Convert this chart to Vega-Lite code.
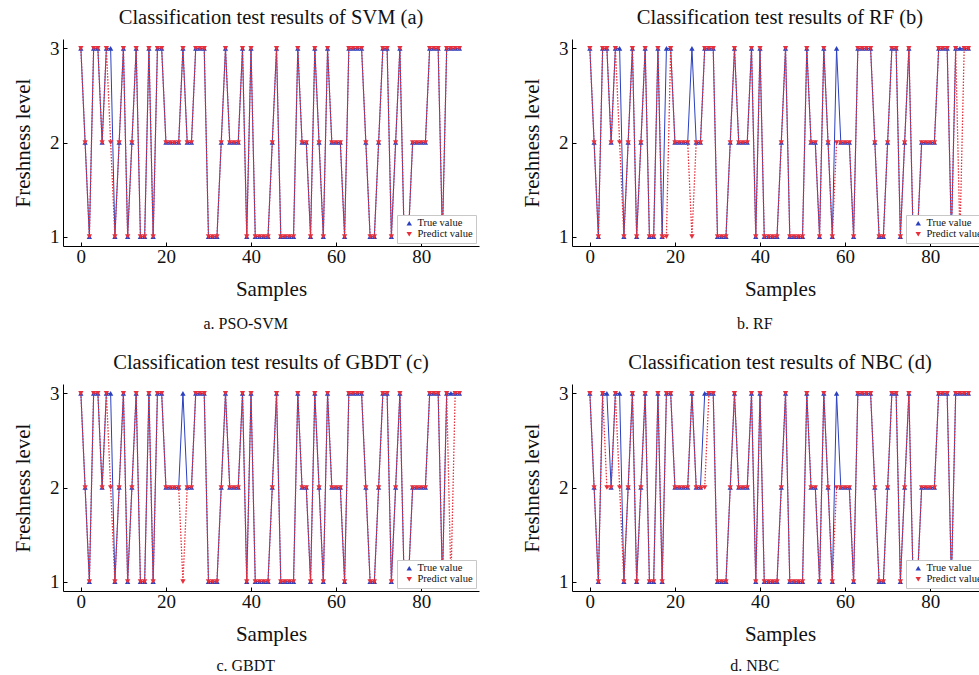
{
  "$schema": "https://vega.github.io/schema/vega-lite/v6.json",
  "padding": {"left": 12, "top": 7, "right": 0, "bottom": 0},
  "background": "#ffffff",
  "config": {
    "view": {"stroke": null},
    "axis": {"domainColor": "#000000", "domainWidth": 1, "tickColor": "#000000", "tickSize": -4, "tickWidth": 1, "grid": false, "labelFont": "Liberation Serif", "labelFontSize": 19, "labelColor": "#111111", "titleFont": "Liberation Serif", "titleFontSize": 21, "titleFontWeight": "normal", "titleColor": "#111111", "labelPadding": 8},
    "axisX": {"titlePadding": 12, "labelFlush": false, "labelPadding": 5},
    "axisY": {"titlePadding": 16},
    "title": {"font": "Liberation Serif", "fontSize": 20.5, "fontWeight": "normal", "color": "#111111", "offset": 11, "anchor": "middle"},
    "legend": {"title": null, "orient": "bottom-right", "offset": 3, "padding": 3, "strokeColor": "#c8c8c8", "fillColor": "#ffffff", "labelFont": "Liberation Serif", "labelFontSize": 10.5, "labelColor": "#111111", "rowPadding": 0, "labelOffset": 3, "symbolSize": 30, "symbolOffset": 4}
  },
  "datasets": {
    "rows": [
      {"x":0,"T":3,"a":3,"b":3,"c":3,"d":3},
      {"x":1,"T":2,"a":2,"b":2,"c":2,"d":2},
      {"x":2,"T":1,"a":1,"b":1,"c":1,"d":1},
      {"x":3,"T":3,"a":3,"b":3,"c":3,"d":3},
      {"x":4,"T":3,"a":3,"b":3,"c":3,"d":2},
      {"x":5,"T":2,"a":2,"b":2,"c":2,"d":2},
      {"x":6,"T":3,"a":3,"b":3,"c":3,"d":3},
      {"x":7,"T":3,"a":2,"b":2,"c":2,"d":2},
      {"x":8,"T":1,"a":1,"b":1,"c":1,"d":1},
      {"x":9,"T":2,"a":2,"b":2,"c":2,"d":2},
      {"x":10,"T":3,"a":3,"b":3,"c":3,"d":3},
      {"x":11,"T":1,"a":1,"b":1,"c":1,"d":1},
      {"x":12,"T":2,"a":2,"b":2,"c":2,"d":2},
      {"x":13,"T":3,"a":3,"b":3,"c":3,"d":3},
      {"x":14,"T":1,"a":1,"b":1,"c":1,"d":1},
      {"x":15,"T":1,"a":1,"b":1,"c":1,"d":1},
      {"x":16,"T":3,"a":3,"b":3,"c":3,"d":3},
      {"x":17,"T":1,"a":1,"b":1,"c":1,"d":1},
      {"x":18,"T":3,"a":3,"b":1,"c":3,"d":3},
      {"x":19,"T":3,"a":3,"b":3,"c":3,"d":3},
      {"x":20,"T":2,"a":2,"b":2,"c":2,"d":2},
      {"x":21,"T":2,"a":2,"b":2,"c":2,"d":2},
      {"x":22,"T":2,"a":2,"b":2,"c":2,"d":2},
      {"x":23,"T":2,"a":2,"b":2,"c":2,"d":2},
      {"x":24,"T":3,"a":3,"b":1,"c":1,"d":3},
      {"x":25,"T":2,"a":2,"b":2,"c":2,"d":2},
      {"x":26,"T":2,"a":2,"b":2,"c":2,"d":2},
      {"x":27,"T":3,"a":3,"b":3,"c":3,"d":2},
      {"x":28,"T":3,"a":3,"b":3,"c":3,"d":3},
      {"x":29,"T":3,"a":3,"b":3,"c":3,"d":3},
      {"x":30,"T":1,"a":1,"b":1,"c":1,"d":1},
      {"x":31,"T":1,"a":1,"b":1,"c":1,"d":1},
      {"x":32,"T":1,"a":1,"b":1,"c":1,"d":1},
      {"x":33,"T":2,"a":2,"b":2,"c":2,"d":2},
      {"x":34,"T":3,"a":3,"b":3,"c":3,"d":3},
      {"x":35,"T":2,"a":2,"b":2,"c":2,"d":2},
      {"x":36,"T":2,"a":2,"b":2,"c":2,"d":2},
      {"x":37,"T":2,"a":2,"b":2,"c":2,"d":2},
      {"x":38,"T":3,"a":3,"b":3,"c":3,"d":3},
      {"x":39,"T":1,"a":1,"b":1,"c":1,"d":1},
      {"x":40,"T":3,"a":3,"b":3,"c":3,"d":3},
      {"x":41,"T":1,"a":1,"b":1,"c":1,"d":1},
      {"x":42,"T":1,"a":1,"b":1,"c":1,"d":1},
      {"x":43,"T":1,"a":1,"b":1,"c":1,"d":1},
      {"x":44,"T":1,"a":1,"b":1,"c":1,"d":1},
      {"x":45,"T":2,"a":2,"b":2,"c":2,"d":2},
      {"x":46,"T":3,"a":3,"b":3,"c":3,"d":3},
      {"x":47,"T":1,"a":1,"b":1,"c":1,"d":1},
      {"x":48,"T":1,"a":1,"b":1,"c":1,"d":1},
      {"x":49,"T":1,"a":1,"b":1,"c":1,"d":1},
      {"x":50,"T":1,"a":1,"b":1,"c":1,"d":1},
      {"x":51,"T":3,"a":3,"b":3,"c":3,"d":3},
      {"x":52,"T":2,"a":2,"b":2,"c":2,"d":2},
      {"x":53,"T":2,"a":2,"b":2,"c":2,"d":2},
      {"x":54,"T":1,"a":1,"b":1,"c":1,"d":1},
      {"x":55,"T":3,"a":3,"b":3,"c":3,"d":3},
      {"x":56,"T":2,"a":2,"b":2,"c":2,"d":2},
      {"x":57,"T":1,"a":1,"b":1,"c":1,"d":1},
      {"x":58,"T":3,"a":3,"b":2,"c":3,"d":2},
      {"x":59,"T":2,"a":2,"b":2,"c":2,"d":2},
      {"x":60,"T":2,"a":2,"b":2,"c":2,"d":2},
      {"x":61,"T":2,"a":2,"b":2,"c":2,"d":2},
      {"x":62,"T":1,"a":1,"b":1,"c":1,"d":1},
      {"x":63,"T":3,"a":3,"b":3,"c":3,"d":3},
      {"x":64,"T":3,"a":3,"b":3,"c":3,"d":3},
      {"x":65,"T":3,"a":3,"b":3,"c":3,"d":3},
      {"x":66,"T":3,"a":3,"b":3,"c":3,"d":3},
      {"x":67,"T":2,"a":2,"b":2,"c":2,"d":2},
      {"x":68,"T":1,"a":1,"b":1,"c":1,"d":1},
      {"x":69,"T":1,"a":1,"b":1,"c":1,"d":1},
      {"x":70,"T":2,"a":2,"b":2,"c":2,"d":2},
      {"x":71,"T":3,"a":3,"b":3,"c":3,"d":3},
      {"x":72,"T":3,"a":3,"b":3,"c":3,"d":3},
      {"x":73,"T":1,"a":1,"b":1,"c":1,"d":1},
      {"x":74,"T":2,"a":2,"b":2,"c":2,"d":2},
      {"x":75,"T":3,"a":3,"b":3,"c":3,"d":3},
      {"x":76,"T":1,"a":1,"b":1,"c":1,"d":1},
      {"x":77,"T":1,"a":1,"b":1,"c":1,"d":1},
      {"x":78,"T":2,"a":2,"b":2,"c":2,"d":2},
      {"x":79,"T":2,"a":2,"b":2,"c":2,"d":2},
      {"x":80,"T":2,"a":2,"b":2,"c":2,"d":2},
      {"x":81,"T":2,"a":2,"b":2,"c":2,"d":2},
      {"x":82,"T":3,"a":3,"b":3,"c":3,"d":3},
      {"x":83,"T":3,"a":3,"b":3,"c":3,"d":3},
      {"x":84,"T":3,"a":3,"b":3,"c":3,"d":3},
      {"x":85,"T":1,"a":1,"b":1,"c":1,"d":1},
      {"x":86,"T":3,"a":3,"b":3,"c":3,"d":3},
      {"x":87,"T":3,"a":3,"b":1,"c":1,"d":3},
      {"x":88,"T":3,"a":3,"b":3,"c":3,"d":3},
      {"x":89,"T":3,"a":3,"b":3,"c":3,"d":3}
    ]
  },
  "resolve": {"scale": {"color": "independent", "shape": "independent"}, "legend": {"color": "independent", "shape": "independent"}},
  "spacing": 20,
  "vconcat": [
    {
      "resolve": {"scale": {"color": "independent", "shape": "independent"}, "legend": {"color": "independent", "shape": "independent"}},
      "spacing": 42,
      "hconcat": [
        {
          "title": {"text": "a. PSO-SVM", "orient": "bottom", "offset": 17, "fontSize": 16, "font": "Liberation Serif", "anchor": "middle"},
          "resolve": {"scale": {"color": "independent", "shape": "independent"}, "legend": {"color": "independent", "shape": "independent"}},
          "vconcat": [
            {
              "width": 416, "height": 207,
              "title": {"text": "Classification test results of SVM (a)", "font": "Liberation Serif"},
              "data": {"name": "rows"},
              "transform": [{"fold": ["T", "a"], "as": ["series", "level"]}],
              "encoding": {
                "x": {"field": "x", "type": "quantitative", "scale": {"domain": [-4.2, 93.6], "nice": false, "zero": false}, "axis": {"values": [0, 20, 40, 60, 80], "title": "Samples"}},
                "y": {"field": "level", "type": "quantitative", "scale": {"domain": [0.9, 3.1], "nice": false, "zero": false}, "axis": {"values": [1, 2, 3], "title": "Freshness level"}}
              },
              "layer": [
                {"transform": [{"filter": "datum.series === 'T'"}], "mark": {"type": "line", "strokeWidth": 1, "color": "#2a40c0"}, "encoding": {}},
                {"transform": [{"filter": "datum.series !== 'T'"}], "mark": {"type": "line", "strokeWidth": 1.3, "strokeDash": [1.5, 1.5], "color": "#e8303c"}, "encoding": {}},
                {"mark": {"type": "point", "filled": true, "size": 28, "opacity": 1},
                 "encoding": {
                   "color": {"field": "series", "type": "nominal", "scale": {"domain": ["T", "a"], "range": ["#2a40c0", "#e8303c"]}, "legend": {"labelExpr": "datum.value === 'T' ? 'True value' : 'Predict value'"}},
                   "shape": {"field": "series", "type": "nominal", "scale": {"domain": ["T", "a"], "range": ["triangle-up", "triangle-down"]}, "legend": {"labelExpr": "datum.value === 'T' ? 'True value' : 'Predict value'"}}
                 }}
              ]
            }
          ]
        },
        {
          "title": {"text": "b. RF", "orient": "bottom", "offset": 17, "fontSize": 16, "font": "Liberation Serif", "anchor": "middle"},
          "resolve": {"scale": {"color": "independent", "shape": "independent"}, "legend": {"color": "independent", "shape": "independent"}},
          "vconcat": [
            {
              "width": 416, "height": 207,
              "title": {"text": "Classification test results of RF (b)", "font": "Liberation Serif"},
              "data": {"name": "rows"},
              "transform": [{"fold": ["T", "b"], "as": ["series", "level"]}],
              "encoding": {
                "x": {"field": "x", "type": "quantitative", "scale": {"domain": [-4.2, 93.6], "nice": false, "zero": false}, "axis": {"values": [0, 20, 40, 60, 80], "title": "Samples"}},
                "y": {"field": "level", "type": "quantitative", "scale": {"domain": [0.9, 3.1], "nice": false, "zero": false}, "axis": {"values": [1, 2, 3], "title": "Freshness level"}}
              },
              "layer": [
                {"transform": [{"filter": "datum.series === 'T'"}], "mark": {"type": "line", "strokeWidth": 1, "color": "#2a40c0"}, "encoding": {}},
                {"transform": [{"filter": "datum.series !== 'T'"}], "mark": {"type": "line", "strokeWidth": 1.3, "strokeDash": [1.5, 1.5], "color": "#e8303c"}, "encoding": {}},
                {"mark": {"type": "point", "filled": true, "size": 28, "opacity": 1},
                 "encoding": {
                   "color": {"field": "series", "type": "nominal", "scale": {"domain": ["T", "b"], "range": ["#2a40c0", "#e8303c"]}, "legend": {"labelExpr": "datum.value === 'T' ? 'True value' : 'Predict value'"}},
                   "shape": {"field": "series", "type": "nominal", "scale": {"domain": ["T", "b"], "range": ["triangle-up", "triangle-down"]}, "legend": {"labelExpr": "datum.value === 'T' ? 'True value' : 'Predict value'"}}
                 }}
              ]
            }
          ]
        }
      ]
    },
    {
      "resolve": {"scale": {"color": "independent", "shape": "independent"}, "legend": {"color": "independent", "shape": "independent"}},
      "spacing": 42,
      "hconcat": [
        {
          "title": {"text": "c. GBDT", "orient": "bottom", "offset": 14, "fontSize": 16, "font": "Liberation Serif", "anchor": "middle"},
          "resolve": {"scale": {"color": "independent", "shape": "independent"}, "legend": {"color": "independent", "shape": "independent"}},
          "vconcat": [
            {
              "width": 416, "height": 207,
              "title": {"text": "Classification test results of GBDT (c)", "font": "Liberation Serif"},
              "data": {"name": "rows"},
              "transform": [{"fold": ["T", "c"], "as": ["series", "level"]}],
              "encoding": {
                "x": {"field": "x", "type": "quantitative", "scale": {"domain": [-4.2, 93.6], "nice": false, "zero": false}, "axis": {"values": [0, 20, 40, 60, 80], "title": "Samples"}},
                "y": {"field": "level", "type": "quantitative", "scale": {"domain": [0.9, 3.1], "nice": false, "zero": false}, "axis": {"values": [1, 2, 3], "title": "Freshness level"}}
              },
              "layer": [
                {"transform": [{"filter": "datum.series === 'T'"}], "mark": {"type": "line", "strokeWidth": 1, "color": "#2a40c0"}, "encoding": {}},
                {"transform": [{"filter": "datum.series !== 'T'"}], "mark": {"type": "line", "strokeWidth": 1.3, "strokeDash": [1.5, 1.5], "color": "#e8303c"}, "encoding": {}},
                {"mark": {"type": "point", "filled": true, "size": 28, "opacity": 1},
                 "encoding": {
                   "color": {"field": "series", "type": "nominal", "scale": {"domain": ["T", "c"], "range": ["#2a40c0", "#e8303c"]}, "legend": {"labelExpr": "datum.value === 'T' ? 'True value' : 'Predict value'"}},
                   "shape": {"field": "series", "type": "nominal", "scale": {"domain": ["T", "c"], "range": ["triangle-up", "triangle-down"]}, "legend": {"labelExpr": "datum.value === 'T' ? 'True value' : 'Predict value'"}}
                 }}
              ]
            }
          ]
        },
        {
          "title": {"text": "d. NBC", "orient": "bottom", "offset": 14, "fontSize": 16, "font": "Liberation Serif", "anchor": "middle"},
          "resolve": {"scale": {"color": "independent", "shape": "independent"}, "legend": {"color": "independent", "shape": "independent"}},
          "vconcat": [
            {
              "width": 416, "height": 207,
              "title": {"text": "Classification test results of NBC (d)", "font": "Liberation Serif"},
              "data": {"name": "rows"},
              "transform": [{"fold": ["T", "d"], "as": ["series", "level"]}],
              "encoding": {
                "x": {"field": "x", "type": "quantitative", "scale": {"domain": [-4.2, 93.6], "nice": false, "zero": false}, "axis": {"values": [0, 20, 40, 60, 80], "title": "Samples"}},
                "y": {"field": "level", "type": "quantitative", "scale": {"domain": [0.9, 3.1], "nice": false, "zero": false}, "axis": {"values": [1, 2, 3], "title": "Freshness level"}}
              },
              "layer": [
                {"transform": [{"filter": "datum.series === 'T'"}], "mark": {"type": "line", "strokeWidth": 1, "color": "#2a40c0"}, "encoding": {}},
                {"transform": [{"filter": "datum.series !== 'T'"}], "mark": {"type": "line", "strokeWidth": 1.3, "strokeDash": [1.5, 1.5], "color": "#e8303c"}, "encoding": {}},
                {"mark": {"type": "point", "filled": true, "size": 28, "opacity": 1},
                 "encoding": {
                   "color": {"field": "series", "type": "nominal", "scale": {"domain": ["T", "d"], "range": ["#2a40c0", "#e8303c"]}, "legend": {"labelExpr": "datum.value === 'T' ? 'True value' : 'Predict value'"}},
                   "shape": {"field": "series", "type": "nominal", "scale": {"domain": ["T", "d"], "range": ["triangle-up", "triangle-down"]}, "legend": {"labelExpr": "datum.value === 'T' ? 'True value' : 'Predict value'"}}
                 }}
              ]
            }
          ]
        }
      ]
    }
  ]
}
